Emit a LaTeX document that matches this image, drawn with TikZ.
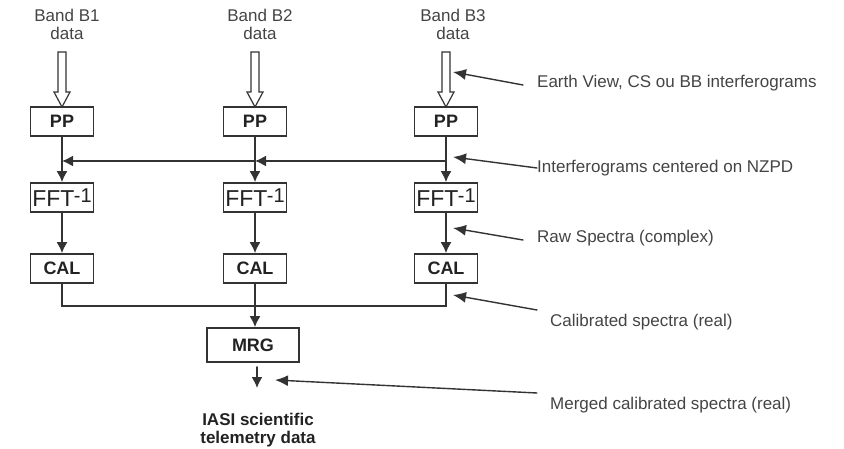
\documentclass[tikz,border=0pt]{standalone}
\usepackage{fontspec}
\setmainfont{Liberation Sans}
\usetikzlibrary{arrows.meta}
\definecolor{linegray}{HTML}{333333}
\definecolor{textgray}{HTML}{444444}
\definecolor{boxtext}{HTML}{222222}
\tikzset{
  box/.style={draw=linegray,line width=1.7pt,minimum width=63pt,minimum height=29pt,
    inner sep=0pt,text=boxtext,font=\bfseries\fontsize{18}{18}\selectfont},
  flow/.style={draw=linegray,line width=1.6pt,-{Latex[length=11pt,width=11pt]}},
  link/.style={draw=linegray,line width=1.6pt},
  hollow/.style={draw=linegray,line width=1.2pt,fill=white,line join=miter},
  band/.style={align=center,text=textgray,font=\fontsize{17}{18}\selectfont},
  note/.style={anchor=west,inner sep=0pt,text=textgray,font=\fontsize{17}{18}\selectfont},
  pointer/.style={draw=linegray,line width=1.4pt,-{Latex[length=13pt,width=11pt]}}
}
\newcommand{\hollowarr}[1]{%
  \draw[hollow] (#1) ++(-4,0) -- ++(0,40) -- ++(-4,0) -- ++(8,15) -- ++(8,-15)
    -- ++(-4,0) -- ++(0,-40) -- cycle;}
\newcommand{\fftlabel}{{\mdseries\fontsize{23}{23}\selectfont FFT\kern-0.5pt\raisebox{4pt}{\fontsize{20}{20}\selectfont -1}}}
\begin{document}
\begin{tikzpicture}[x=1pt,y=-1pt,line cap=round]
  \useasboundingbox (0,0) rectangle (844,449);
  % band inputs
  \node[band] (b1) at (67,24) {Band B1\\data};
  \node[band] (b2) at (260,24) {Band B2\\data};
  \node[band] (b3) at (453,24) {Band B3\\data};
  \coordinate (in1) at (62,52);
  \coordinate (in2) at (255,52);
  \coordinate (in3) at (446,52);
  \hollowarr{in1}
  \hollowarr{in2}
  \hollowarr{in3}
  % processing chain
  \node[box] (pp1) at (62,121.5) {PP};
  \node[box] (pp2) at (255,121.5) {PP};
  \node[box] (pp3) at (446,121.5) {PP};
  \node[box] (fft1) at (62,197.5) {\fftlabel};
  \node[box] (fft2) at (255,197.5) {\fftlabel};
  \node[box] (fft3) at (446,197.5) {\fftlabel};
  \node[box] (cal1) at (62,268.5) {CAL};
  \node[box] (cal2) at (255,268.5) {CAL};
  \node[box] (cal3) at (446,268.5) {CAL};
  \node[box,minimum width=92pt,minimum height=34pt] (mrg) at (253,345) {MRG};
  \foreach \i in {1,2,3} {
    \draw[flow] (pp\i) -- (fft\i);
    \draw[flow] (fft\i) -- (cal\i);
  }
  % NZPD distribution
  \coordinate (j1) at (62,161);
  \coordinate (j2) at (255,161);
  \coordinate (j3) at (446,161);
  \draw[flow] (j3) -- (j2);
  \draw[flow] (j2) -- (j1);
  % merge
  \coordinate (m1) at (62,306);
  \coordinate (m3) at (446,306);
  \draw[link] (cal1.south) -- (m1) -- (m3) -- (cal3.south);
  \draw[flow] (cal2.south) -- (cal2.south |- mrg.north);
  \coordinate (out1) at (257,367);
  \coordinate (out2) at (257,388);
  \draw[flow] (out1) -- (out2);
  \node[align=center,text=boxtext,font=\bfseries\fontsize{17}{18}\selectfont] (tm) at (258,430) {IASI scientific\\telemetry data};
  % annotations
  \node[note] (n1) at (537,83) {Earth View, CS ou BB interferograms};
  \node[note] (n2) at (537,168) {Interferograms centered on NZPD};
  \node[note] (n3) at (537,238) {Raw Spectra (complex)};
  \node[note] (n4) at (550,322) {Calibrated spectra (real)};
  \node[note] (n5) at (550,405) {Merged calibrated spectra (real)};
  \coordinate (s1) at (523,85);  \coordinate (t1) at (453,72);
  \coordinate (s2) at (537,168); \coordinate (t2) at (453,157);
  \coordinate (s3) at (523,240); \coordinate (t3) at (453,228);
  \coordinate (s4) at (537,310); \coordinate (t4) at (453,295);
  \coordinate (s5) at (537,393); \coordinate (t5) at (275,380);
  \foreach \k in {1,...,5}
    \draw[pointer] (s\k) -- (t\k);
\end{tikzpicture}
\end{document}
